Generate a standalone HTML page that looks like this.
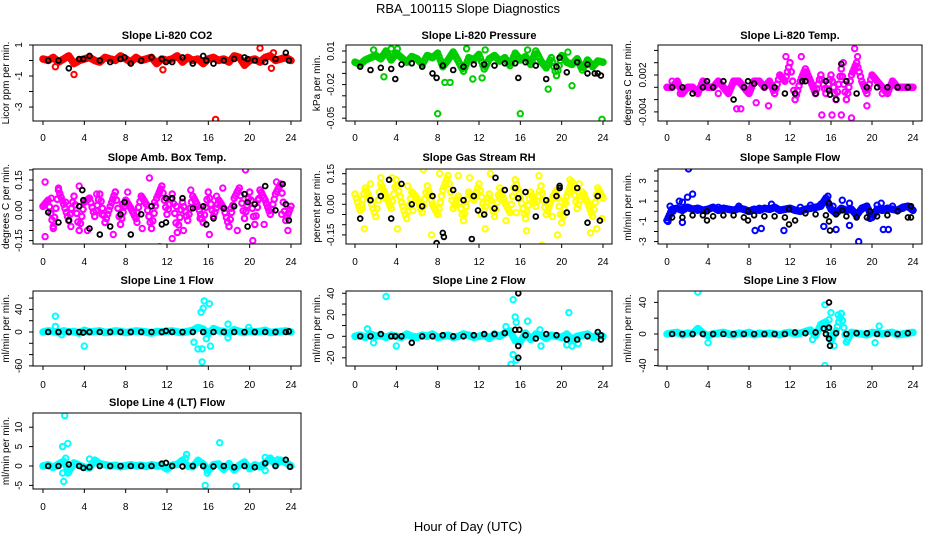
<!DOCTYPE html>
<html><head><meta charset="utf-8">
<style>
html,body{margin:0;padding:0;background:#fff;}
svg{display:block;font-family:"Liberation Sans",sans-serif;}
</style></head>
<body>
<svg id="chart" width="936" height="540" viewBox="0 0 936 540" xmlns="http://www.w3.org/2000/svg">
<text x="468" y="13" text-anchor="middle" font-size="13">RBA_100115  Slope Diagnostics</text>
<text x="468" y="531" text-anchor="middle" font-size="13">Hour of Day (UTC)</text>
</svg>
<script>
const HOURS_C=[0,0.5,1,1.5,2,2.5,3,3.5,4,4.5,5,5.5,6,6.5,7,7.5,8,8.5,9,9.5,10,10.5,11,11.5,12,12.5,13,13.5,14,14.5,15,15.5,16,16.5,17,17.5,18,18.5,19,19.5,20,20.5,21,21.5,22,22.5,23,23.5,24];
const HOURS_B=[0.5,1.5,2.5,3.5,4.5,5.5,6.5,7.5,8.5,9.5,10.5,11.5,12.5,13.5,14.5,15.5,16.5,17.5,18.5,19.5,20.5,21.5,22.5,23.5];
const X_TICKS=[0,4,8,12,16,20,24];

// Panel 1: CO2
const co2Main=[0.1,0,0.2,-0.1,0.1,0.3,-0.2,0,0.1,0.2,0,-0.1,0.2,0.1,0,0.3,0.1,-0.1,0.2,0,0.1,0.2,-0.2,0.1,0,0.1,0.3,-0.1,0.2,0,0.1,-0.2,0.1,0.2,0,0.1,-0.1,0.3,0.2,-0.3,0,0.1,-0.1,0.2,0.3,0,0.1,0.2,0];
const co2ExtraX=[3,16.7,21,22.3,11.6,22.1,1.2];
const co2ExtraY=[-0.9,-3.8,0.8,0.5,-0.6,-0.5,-0.4];
const co2Black=[0,0,-0.5,0.1,0.3,0,-0.1,0.1,-0.2,0,0.2,0.1,-0.1,0.2,-0.2,0.3,-0.2,0,0.1,0.2,0,-0.1,0.1,0.5];
const co2BExtraX=[3.9,7.9,11.9,15.8,19.8,23.8];
const co2BExtraY=[0.1,0.2,-0.1,0,0.1,0];

// Panel 2: Pressure
const presMain=[0,-0.002,0.002,0.004,0.006,0.003,0.01,0.002,0.008,0.004,0,0.005,0.003,-0.002,0.006,0.004,0.008,-0.004,0.002,0.009,0.001,-0.008,0.004,0.002,0.007,-0.006,0.003,0.006,0.001,0.004,-0.003,0.008,0.002,0.005,-0.002,0.01,0.001,-0.005,0.004,-0.012,0.006,0,-0.002,0.003,-0.007,0.002,-0.004,0.001,0];
const presExtraX=[8,16,23.9,18.7,21,2.8,8.7,9.2,11.4,12.3,1.8,3.5,4.1,10.8,16.7,20.6,12.6];
const presExtraY=[-0.046,-0.046,-0.051,-0.024,-0.021,-0.013,-0.018,-0.018,-0.015,-0.014,0.011,0.012,0.012,0.012,0.011,0.009,0.011];
const presBlack=[-0.004,-0.007,-0.005,-0.006,-0.002,-0.001,-0.004,-0.01,-0.003,-0.007,-0.004,-0.002,-0.002,-0.003,-0.001,-0.001,0,-0.003,-0.015,-0.004,-0.009,0,-0.002,-0.01];
const presBExtraX=[3.9,7.9,15.8,19.8,22.5,23.2,23.8];
const presBExtraY=[-0.015,-0.014,-0.014,0.004,-0.01,-0.01,-0.012];

// Panel 3: Li-820 Temp
const tempMain=[0,0,0.001,-0.001,0,0,-0.001,0.001,0,0,0.001,0,-0.001,0.001,0.001,0,-0.001,0.001,0.001,0,0.001,-0.001,0.002,0.001,0.004,-0.002,0.001,0.003,0.001,-0.001,0.002,-0.001,0.002,-0.002,0.003,-0.002,0.002,0.004,0.001,-0.001,0.002,0.001,0,-0.001,0.001,0,0,0,0];
const tempExtraX=[6.8,7.2,9.9,15.1,16.1,17,18,18.3,18.6,13.1,11.6,17.2,8.7,19.5,1.3,2.2,5,10.5,14.5,21,22,0.5,3.5];
const tempExtraY=[-0.0035,-0.0035,-0.003,-0.0045,-0.0045,-0.0045,-0.005,0.0063,0.005,0.005,0.005,0.004,-0.0025,-0.003,-0.001,0,-0.001,-0.001,-0.001,-0.001,0.001,0.001,0];
const tempBlack=[0,0,-0.001,0,0,0.001,-0.002,0,0.0006,0,0,-0.001,-0.001,0.001,-0.001,0.001,-0.002,0.001,-0.001,0,0,0,0,0];
const tempBExtraX=[17,15.8,15.9,3.9,7.9,13.2];
const tempBExtraY=[0.0038,-0.0005,-0.0012,0.001,0.001,0.001];

// Panel 4: Amb Box Temp
const ambMain=[0.02,0.05,-0.08,0.1,0.03,-0.05,0.07,-0.1,0.04,0.06,-0.03,0.08,-0.06,0.02,0.09,-0.07,0.05,0.01,-0.04,0.07,0.03,-0.09,0.06,0.12,-0.02,0.08,-0.11,0.04,-0.05,0.07,0.02,-0.06,0.09,-0.03,0.05,0.01,-0.08,0.06,0.11,-0.04,0.09,-0.07,0.1,0.05,-0.02,0.08,0.13,-0.05,0.02];
const ambExtraX=[0.2,0.2,1.5,11.3,19.6,10.3,20.3,23.7,18.8,4.3,5.2,12.5,8.2,14.3,2.7,16.1,22.6,6.8,9.6,17.4,3.5,13.6,1,21.4,0.8,2.2,5.7,7.7,9.1,10.8,12.9,15.2,16.8,18.2,20.8,23.1];
const ambExtraY=[0.14,-0.13,0.11,-0.18,0.2,0.16,-0.15,-0.1,-0.1,-0.1,0.08,-0.14,0.09,0.1,-0.08,-0.12,0.14,-0.12,-0.09,0.11,0.12,-0.1,-0.09,-0.07,0.06,0.04,-0.02,0.03,-0.06,0.04,0.02,-0.04,0.07,0.01,0.05,-0.02];
const ambBlack=[-0.01,-0.06,-0.05,0.02,-0.09,-0.12,-0.08,-0.02,-0.12,-0.02,0.02,-0.07,0.06,0.06,0.01,0.02,-0.04,0.01,0.02,0.08,0.03,0.12,0,0.03];
const ambBExtraX=[3.9,3.8,7.9,15.8,19.8,19.8,23.8,23.2,11.9,11.9];
const ambBExtraY=[0.05,0.1,0.04,-0.07,-0.08,0.04,-0.05,0.13,0.06,-0.06];

// Panel 5: Gas Stream RH
const rhMain=[0.05,-0.03,0.08,0.02,-0.06,0.1,0.04,-0.02,0.12,0.01,-0.07,0.06,0.03,-0.04,0.09,0,-0.05,0.07,0.14,-0.02,0.04,-0.08,0.06,0.02,0.1,-0.03,0.05,-0.06,0.08,0.01,-0.04,0.12,0.03,-0.07,0.06,-0.01,0.09,-0.05,0.02,0.07,-0.09,0.04,0.11,-0.02,0.06,0.01,-0.06,0.08,0.03];
const rhExtraX=[6.6,18.1,7.4,19.6,16.6,4.1,0.9,17.8,12.6,2.5,10,13.1,8.2,1.5,21.7,22.8,14.6,5.1,11.1,20.8,23.4,3.6,0.7,2.9,5.6,7.1,9.4,12.2,14.1,15.6,17.2,19.1,20.3,22.2,23.9];
const rhExtraY=[0.17,-0.2,-0.15,-0.15,-0.13,-0.12,-0.12,0.14,-0.12,0.13,0.14,0.15,0.15,0.1,0.1,-0.14,-0.08,0.09,0.13,0.12,-0.12,0.13,-0.02,0.03,-0.03,0.04,0.02,-0.05,0.05,-0.04,0.03,-0.06,0.02,0.05,-0.07];
const rhBlack=[-0.07,0.02,0.04,-0.07,0.1,0,-0.01,0.04,-0.14,0.07,0.02,0.04,-0.05,-0.02,0.07,0.08,0.06,-0.06,0.02,0.04,-0.04,0.08,-0.09,0.04];
const rhBExtraX=[7.9,8.6,11.3,13.6,19.8,19.8,3.3,23.7,11.9,15.8];
const rhBExtraY=[-0.19,-0.16,-0.17,0.13,0.08,0.09,0.12,-0.08,-0.03,0.03];

// Panel 6: Sample Flow
const sfMain=[-0.9,0.2,0.3,0.1,0.4,0.2,0.3,0.1,0.2,0.4,0.1,0.3,0.2,0.1,0.3,0.2,0,0.2,0.1,0.3,0.2,0.4,0.1,0.2,0.3,0.1,0,0.2,0.3,0.4,0.5,1.3,0.2,-0.2,0.3,0.1,0.2,-0.4,0.3,0.5,-0.6,0.2,0.1,0.3,0.2,0.1,0.4,0.5,0.1];
const sfExtraX=[2.1,2.5,2,1.2,1.5,1.5,8.6,9.2,11.4,15.7,15.3,16.5,17.1,17.8,18.7,21.1,21.6,20.9,17.8,0.1,19.8,10.2,0.3,0.6,1,3,5,7,9,11,13,14,15,16.2,19,20.5,22,23];
const sfExtraY=[4.2,1.7,1.4,1,0.9,-1.1,-1.9,-1.7,-1.9,1.5,-1.5,-1.8,1.1,-1.4,-3,-1.8,-1.8,0.8,0.8,-1,-0.7,0.7,0.5,0,0.3,0.1,0.4,0.5,0.3,0.1,0.4,0.6,0.7,0.5,0.2,0.6,0.5,0.3];
const sfBlack=[-0.6,-0.6,-0.4,-0.4,-0.5,-0.4,-0.4,-0.6,-0.4,-0.5,-0.5,-0.6,-0.9,-0.2,-0.3,-0.4,-0.3,-0.5,-0.6,-0.6,-0.5,-0.4,0,-0.6];
const sfBExtraX=[3.9,3.9,7.9,7.9,11.9,11.9,15.8,15.8,15.9,17.1,19.8,23.8,23.8];
const sfBExtraY=[0,-0.9,-0.9,0,-1.3,0.2,0.8,-1,-1.9,0.1,0,0.5,-0.6];

// Panel 7: Line 1 Flow
const l1Main=[0,2,1,-1,2,0,1,-2,3,0,1,2,-1,0,2,1,-1,0,2,1,0,-2,1,0,1,2,0,-1,1,3,8,5,-3,6,2,1,-2,4,1,-1,2,0,1,3,-1,0,1,2,0];
const l1ExtraX=[1.2,1.2,4,15.3,15.5,15.6,16.1,14.6,15,15.4,15.4,15.8,16.2,17.9,17.9,19.9,1.8];
const l1ExtraY=[28,10,-25,35,42,55,50,-18,-30,-30,-53,-12,-25,14,-10,8,-5];
const l1Black=[0,0,0,0,0,0,0,0,0,0,0,0,0,0,0,0,0,0,0,0,0,0,0,0];
const l1BExtraX=[3.9,11.9,23.8];
const l1BExtraY=[-1,2,1];

// Panel 8: Line 2 Flow
const l2Main=[0,1,-1,2,0,1,-1,1,0,-1,2,0,-1,1,0,2,-1,0,1,-1,0,2,1,-1,0,1,-2,2,0,3,5,-4,-5,3,-3,2,1,-2,1,0,-1,2,-3,0,1,2,-1,1,0];
const l2ExtraX=[3,15.3,15.5,15.6,16.7,20.7,15.3,15.1,4,1.2,1.8,18,20.5,21,21.6,15.6,17.9,14.6];
const l2ExtraY=[37,34,18,13,14,22,-17,-26,-9,7,-6,-9,-8,-9,-7,-22,6,9];
const l2Black=[0,0,2,0,0,-6,0,0,1,0,0,1,2,2,3,6,1,-2,2,1,-3,-3,0,4];
const l2BExtraX=[15.8,15.8,15.8,15.9,23.8,23.8,3.9];
const l2BExtraY=[40,-20,-9,6,-3,1,0];

// Panel 9: Line 3 Flow
const l3Main=[0,1,2,-1,1,0,7,1,-2,0,1,2,0,-1,1,0,2,-1,1,0,1,0,-1,1,2,0,1,3,5,-2,12,15,-8,4,26,-10,2,1,0,-1,2,1,0,1,2,-1,0,1,2];
const l3ExtraX=[3,15.4,16,16.7,15.4,16.3,4,20.7,20.3,14.2,15.8];
const l3ExtraY=[53,37,27,24,-40,-15,-11,10,-11,-7,18];
const l3Black=[0,0,0,0,0,0,0,0,0,0,0,0,2,1,2,0,1,0,1,1,0,0,0,1];
const l3BExtraX=[15.8,15.8,15.8,15.9,15.3];
const l3BExtraY=[40,8,-6,-15,7];

// Panel 10: Line 4 (LT) Flow
const l4Main=[0,0.3,-0.4,0.5,1.2,-1.5,0.8,0.2,-0.3,-0.5,1.5,0.6,0.3,0,0.2,-0.2,0.1,0.3,0,0.2,-0.1,0.3,0,0.1,-0.8,0.2,0.4,1.5,0,-0.2,1.4,0.5,-1.2,0.3,0.5,-0.9,0.6,-1,0.2,1,-0.7,0.3,-0.2,0.8,2,0.3,1.5,0.9,0];
const l4ExtraX=[2.1,1.9,2.4,2.2,1.9,2,2.4,4.5,13.9,13.8,15.7,17.1,18.7,15.9,21.5,21.5,22.7,15];
const l4ExtraY=[13,5,5.8,2,-1.8,-4,-1.8,1.8,3,2,-5,6,-5.2,-1.8,2.2,-1.2,1.6,1.5];
const l4Black=[0,0,0.4,0,-0.3,0,0,0,0,0,0,0.6,0,-0.1,0,0,-0.1,0,-0.3,0,-0.3,0.7,0,1.6];
const l4BExtraX=[23.9,3.9,11.9];
const l4BExtraY=[-0.2,-0.5,0.8];

// Y-axis ticks / labels
const co2Ticks=[1,0,-1,-2,-3]; const co2Labels=["1","-1","-3"]; const co2LabelVals=[1,-1,-3];
const presTicks=[0.01,0,-0.01,-0.02,-0.03,-0.04,-0.05]; const presLabels=["0.01","-0.02","-0.05"]; const presLabelVals=[0.01,-0.02,-0.05];
const tempTicks=[0.006,0.004,0.002,0,-0.002,-0.004]; const tempLabels=["0.002","-0.004"]; const tempLabelVals=[0.002,-0.004];
const ambTicks=[0.2,0.15,0.1,0.05,0,-0.05,-0.1,-0.15]; const ambLabels=["0.15","0.00","-0.15"]; const ambLabelVals=[0.15,0,-0.15];
const rhTicks=[0.15,0.1,0.05,0,-0.05,-0.1,-0.15]; const rhLabels=["0.15","0.00","-0.15"]; const rhLabelVals=[0.15,0,-0.15];
const sfTicks=[4,3,2,1,0,-1,-2,-3]; const sfLabels=["3","1","-1","-3"]; const sfLabelVals=[3,1,-1,-3];
const l1Ticks=[60,40,20,0,-20,-40,-60]; const l1Labels=["40","0","-60"]; const l1LabelVals=[40,0,-60];
const l2Ticks=[40,30,20,10,0,-10,-20]; const l2Labels=["40","20","0","-20"]; const l2LabelVals=[40,20,0,-20];
const l3Ticks=[40,20,0,-20,-40]; const l3Labels=["40","0","-40"]; const l3LabelVals=[40,0,-40];
const l4Ticks=[10,5,0,-5]; const l4Labels=["10","5","0","-5"]; const l4LabelVals=[10,5,0,-5];

const NS="http://www.w3.org/2000/svg";
const svg=document.getElementById('chart');
function mk(tag,attrs,parent){const e=document.createElementNS(NS,tag);for(const k in attrs)e.setAttribute(k,attrs[k]);(parent||svg).appendChild(e);return e;}

const COLS=[{t0:43,t24:291,bl:33,br:301,ylab:9,tl:22},{t0:355,t24:603,bl:346,br:612,ylab:320,tl:334},{t0:667,t24:913,bl:658,br:922,ylab:631,tl:646}];
const ROWS=[{top:45,bot:121,title:39,xl:141},{top:169,bot:244,title:161,xl:265},{top:291,bot:366,title:284,xl:388},{top:413,bot:489,title:406,xl:510}];

const panels=[
 {name:'co2',title:'Slope Li-820 CO2',ylab:'Licor ppm per min.',col:'#ff0000',r:0,c:0,yTop:1.0,yBot:-3.9,main:co2Main,ex:co2ExtraX,ey:co2ExtraY,blk:co2Black,bx:co2BExtraX,by:co2BExtraY,ticks:co2Ticks,lv:co2LabelVals,lb:co2Labels},
 {name:'pressure',title:'Slope Li-820 Pressure',ylab:'kPa per min.',col:'#00cd00',r:0,c:1,yTop:0.01536,yBot:-0.0525,main:presMain,ex:presExtraX,ey:presExtraY,blk:presBlack,bx:presBExtraX,by:presBExtraY,ticks:presTicks,lv:presLabelVals,lb:presLabels},
 {name:'li820-temp',title:'Slope Li-820 Temp.',ylab:'degrees C per min.',col:'#ff00ff',r:0,c:2,yTop:0.00688,yBot:-0.00548,main:tempMain,ex:tempExtraX,ey:tempExtraY,blk:tempBlack,bx:tempBExtraX,by:tempBExtraY,ticks:tempTicks,lv:tempLabelVals,lb:tempLabels},
 {name:'amb-box-temp',title:'Slope Amb. Box Temp.',ylab:'degrees C per min.',col:'#ff00ff',r:1,c:0,yTop:0.2045,yBot:-0.1668,main:ambMain,ex:ambExtraX,ey:ambExtraY,blk:ambBlack,bx:ambBExtraX,by:ambBExtraY,ticks:ambTicks,lv:ambLabelVals,lb:ambLabels},
 {name:'gas-stream-rh',title:'Slope Gas Stream RH',ylab:'percent per min.',col:'#ffff00',r:1,c:1,yTop:0.173,yBot:-0.1946,main:rhMain,ex:rhExtraX,ey:rhExtraY,blk:rhBlack,bx:rhBExtraX,by:rhBExtraY,ticks:rhTicks,lv:rhLabelVals,lb:rhLabels},
 {name:'sample-flow',title:'Slope Sample Flow',ylab:'ml/min per min.',col:'#0000ff',r:1,c:2,yTop:4.19,yBot:-3.24,main:sfMain,ex:sfExtraX,ey:sfExtraY,blk:sfBlack,bx:sfBExtraX,by:sfBExtraY,ticks:sfTicks,lv:sfLabelVals,lb:sfLabels},
 {name:'line1-flow',title:'Slope Line 1 Flow',ylab:'ml/min per min.',col:'#00ffff',r:2,c:0,yTop:72.6,yBot:-60.2,main:l1Main,ex:l1ExtraX,ey:l1ExtraY,blk:l1Black,bx:l1BExtraX,by:l1BExtraY,ticks:l1Ticks,lv:l1LabelVals,lb:l1Labels},
 {name:'line2-flow',title:'Slope Line 2 Flow',ylab:'ml/min per min.',col:'#00ffff',r:2,c:1,yTop:42.1,yBot:-27.6,main:l2Main,ex:l2ExtraX,ey:l2ExtraY,blk:l2Black,bx:l2BExtraX,by:l2BExtraY,ticks:l2Ticks,lv:l2LabelVals,lb:l2Labels},
 {name:'line3-flow',title:'Slope Line 3 Flow',ylab:'ml/min per min.',col:'#00ffff',r:2,c:2,yTop:54.4,yBot:-40.5,main:l3Main,ex:l3ExtraX,ey:l3ExtraY,blk:l3Black,bx:l3BExtraX,by:l3BExtraY,ticks:l3Ticks,lv:l3LabelVals,lb:l3Labels},
 {name:'line4-flow',title:'Slope Line 4 (LT) Flow',ylab:'ml/min per min.',col:'#00ffff',r:3,c:0,yTop:13.66,yBot:-5.93,main:l4Main,ex:l4ExtraX,ey:l4ExtraY,blk:l4Black,bx:l4BExtraX,by:l4BExtraY,ticks:l4Ticks,lv:l4LabelVals,lb:l4Labels}
];

panels.forEach(p=>{
  const C=COLS[p.c], R=ROWS[p.r];
  const xs=h=>C.t0+(h/24)*(C.t24-C.t0);
  const ys=v=>R.top+(p.yTop-v)/(p.yTop-p.yBot)*(R.bot-R.top);
  const g=mk('g',{});
  
  
  const clip=mk('clipPath',{id:'clip-'+p.name},g);
  mk('rect',{x:C.bl,y:R.top,width:C.br-C.bl,height:R.bot-R.top},clip);
  const pts=mk('g',{'clip-path':'url(#clip-'+p.name+')'},g);
  
  
  function dot(x,y,col,w,r){const e=mk('circle',{cx:xs(x).toFixed(1),cy:ys(y).toFixed(1),r:r,fill:'none',stroke:col,'stroke-width':w},pts);return e;}
  p.main.forEach((v,i)=>{const e=dot(HOURS_C[i],v,p.col,2.2,2.7);
    
    });
  p.main.forEach((v,i)=>{if(i<48){[0.25,0.5,0.75].forEach(f=>{
    const e=dot(HOURS_C[i]+f*(HOURS_C[i+1]-HOURS_C[i]),v+f*(p.main[i+1]-v),p.col,2.2,2.7);
    
    });}});
  p.ex.forEach((x,i)=>{const e=dot(x,p.ey[i],p.col,2,2.7);
    
    });
  p.blk.forEach((v,i)=>{const e=dot(HOURS_B[i],v,'#000',1.8,2.4);
    
    });
  p.bx.forEach((x,i)=>{const e=dot(x,p.by[i],'#000',1.8,2.4);
    
    });
  const box=mk('rect',{x:C.bl,y:R.top,width:C.br-C.bl,height:R.bot-R.top,fill:'none',stroke:'#000','stroke-width':1},g);
  
  
  const t=mk('text',{x:(C.bl+C.br)/2,y:R.title,'text-anchor':'middle','font-size':11,'font-weight':'bold'},g);
  t.textContent=p.title;
  
  
  const xa=mk('g',{},g);
  
  
  X_TICKS.forEach(h=>{const x=xs(h);
    mk('line',{x1:x,x2:x,y1:R.bot,y2:R.bot+4,stroke:'#000'},xa);
    const tl=mk('text',{x:x,y:R.xl,'text-anchor':'middle','font-size':10},xa);tl.textContent=h;
    
    });
  const ya=mk('g',{},g);
  
  
  p.ticks.forEach(v=>{const y=ys(v);if(y<R.top-1||y>R.bot+1)return;
    mk('line',{x1:C.bl-4,x2:C.bl,y1:y,y2:y,stroke:'#000'},ya);});
  p.lv.forEach((v,i)=>{const y=ys(v);
    const tl=mk('text',{x:C.tl,y:y,'text-anchor':'middle','font-size':10,transform:'rotate(-90 '+C.tl+' '+y+')'},ya);
    tl.textContent=p.lb[i];
    
    });
  const cy=(R.top+R.bot)/2;
  const yl=mk('text',{x:C.ylab,y:cy,'text-anchor':'middle','font-size':10,transform:'rotate(-90 '+C.ylab+' '+cy+')'},g);
  yl.textContent=p.ylab;
  
  
});
</script>
</body></html>
